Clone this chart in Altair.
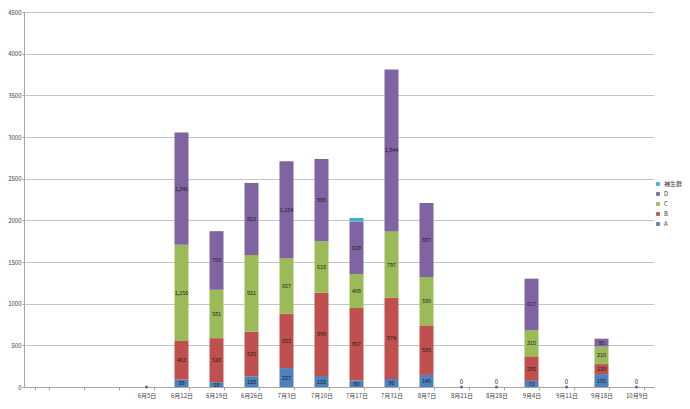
import altair as alt
import pandas as pd

# ---- data ----
dates = [" ", "  ", "   ", "6月5日", "6月12日", "6月19日", "6月26日", "7月3日", "7月10日",
         "7月17日", "7月31日", "8月7日", "8月21日", "8月28日", "9月4日", "9月11日",
         "9月18日", "10月9日"]
series_names = ["A", "B", "C", "D", "補生群"]
vals_A = [0, 0, 0, 0, 89, 58, 128, 227, 132, 80, 96, 145, 0, 0, 73, 0, 155, 0]
vals_B = [0, 0, 0, 0, 463, 528, 535, 652, 999, 867, 974, 595, 0, 0, 295, 0, 120, 0]
vals_C = [0, 0, 0, 0, 1156, 581, 921, 667, 618, 408, 797, 580, 0, 0, 315, 0, 210, 0]
vals_D = [0, 0, 0, 0, 1346, 703, 863, 1164, 988, 629, 1944, 887, 0, 0, 617, 0, 95, 0]
vals_E = [0, 0, 0, 0, 0, 0, 0, 0, 0, 45, 0, 0, 0, 0, 0, 0, 0, 0]

zero_dates = ["6月5日", "8月21日", "8月28日", "9月11日", "10月9日"]
zero_texts = ["", "0", "0", "0", "0"]

legend_order = ["補生群", "D", "C", "B", "A"]
colors = ["#4BACC6", "#8064A2", "#9BBB59", "#C0504D", "#4F81BD"]
y_ticks = [0, 500, 1000, 1500, 2000, 2500, 3000, 3500, 4000, 4500]

rows = []
for k, (name, vals) in enumerate(zip(series_names, [vals_A, vals_B, vals_C, vals_D, vals_E])):
    for d, v in zip(dates, vals):
        rows.append({"cat": d, "series": name, "ord": k, "amount": v})
df = pd.DataFrame(rows)
zdf = pd.DataFrame({"cat": zero_dates, "amount": [0] * len(zero_dates), "txt": zero_texts})

FONT = "Noto Sans CJK JP"

xscale = alt.Scale(domain=dates, paddingInner=0.6, paddingOuter=0.3)
yscale = alt.Scale(domain=[0, 4500], nice=False)

bars = alt.Chart(df).mark_bar().encode(
    x=alt.X("cat:N", scale=xscale, title=None,
            axis=alt.Axis(labelAngle=0, grid=False, labelPadding=2, tickBand="extent")),
    y=alt.Y("amount:Q", stack="zero", scale=yscale, title=None,
            axis=alt.Axis(values=y_ticks, format="d", labelPadding=1, tickSize=2)),
    color=alt.Color("series:N", scale=alt.Scale(domain=legend_order, range=colors), title=None,
                    legend=alt.Legend(orient="none", legendX=631, legendY=169,
                                      symbolType="square", symbolSize=14, labelFontSize=6,
                                      labelColor="#404040", rowPadding=4, labelOffset=3)),
    order=alt.Order("ord:Q", sort="ascending"),
)

labels = alt.Chart(df).transform_filter(
    "datum.ord < 4"
).transform_stack(
    stack="amount", groupby=["cat"], sort=[alt.SortField("ord", order="ascending")],
    as_=["y0", "y1"]
).transform_filter("datum.amount > 0").transform_calculate(
    mid="(datum.y0 + datum.y1) / 2"
).mark_text(fontSize=5.5, color="#1a1a1a").encode(
    x=alt.X("cat:N", scale=xscale),
    y=alt.Y("mid:Q", scale=yscale),
    text=alt.Text("amount:Q", format=","),
)

zpts = alt.Chart(zdf).mark_circle(size=10, color="#6363a3", opacity=1).encode(
    x=alt.X("cat:N", scale=xscale),
    y=alt.Y("amount:Q", scale=yscale),
)
ztxt = alt.Chart(zdf).mark_text(fontSize=6, color="#1a1a1a", dy=-5).encode(
    x=alt.X("cat:N", scale=xscale),
    y=alt.Y("amount:Q", scale=yscale),
    text="txt:N",
)

chart = alt.layer(bars, labels, zpts, ztxt).properties(
    width=630, height=375,
    autosize=alt.AutoSizeParams(type="none"),
    padding={"left": 16, "top": 4, "right": 28, "bottom": 13},
    background="white",
).configure(font=FONT).configure_view(stroke=None).configure_axis(
    labelFontSize=6, labelColor="#404040", gridColor="#c4c4c4",
    domainColor="#a6a6a6", tickColor="#a6a6a6", tickSize=3
)

chart.save("out.html", embed_options={"renderer": "svg", "actions": False})
